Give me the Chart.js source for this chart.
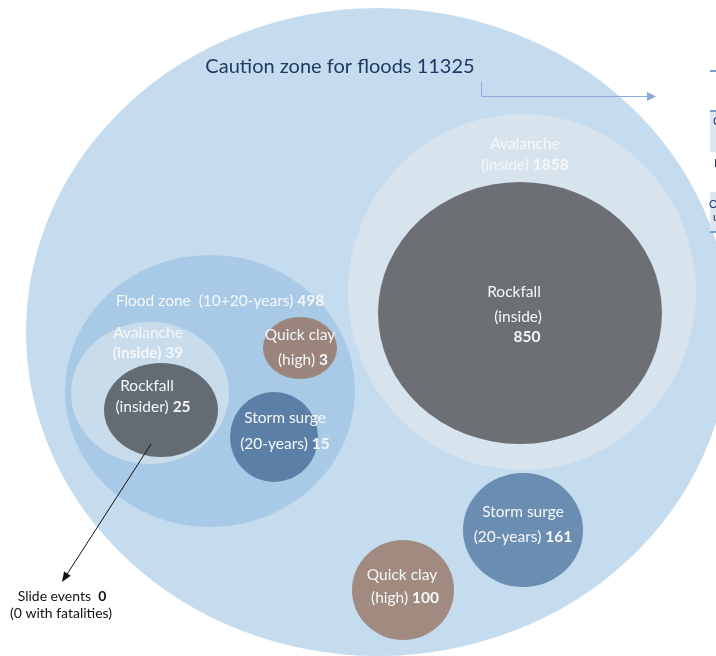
<!DOCTYPE html>
<html>
<head>
<meta charset="utf-8">
<script src="https://cdn.jsdelivr.net/npm/chart.js@4.4.1/dist/chart.umd.min.js"></script>
<style>
  body { margin: 0; background: #ffffff; }
  #wrap { width: 716px; height: 656px; }
</style>
</head>
<body>
<div id="wrap"><canvas id="chart" width="716" height="656"></canvas></div>
<script>
// zones and their counts
const zoneNames = ['Caution zone for floods', 'Avalanche (inside)', 'Rockfall (inside)', 'Flood zone (10+20-years)',
  'Avalanche (inside)', 'Rockfall (insider)', 'Quick clay (high)', 'Storm surge (20-years)',
  'Storm surge (20-years)', 'Quick clay (high)'];
const zoneCounts = [11325, 1858, 850, 498, 39, 25, 3, 15, 161, 100];
// label text per zone, "**" starts the bold part, {n} is the count
const zoneLines = [
  ['Caution zone for floods {n}'],
  ['Avalanche', '(inside) **{n}'],
  ['Rockfall', '(inside)', '**{n}'],
  ['Flood zone  (10+20-years) **{n}'],
  ['Avalanche', '**(inside) {n}'],
  ['Rockfall', '(insider) **{n}'],
  ['Quick clay', '(high) **{n}'],
  ['Storm surge', '(20-years) **{n}'],
  ['Storm surge', '(20-years) **{n}'],
  ['Quick clay', '(high) **{n}']
];
const slideEvents = 0;
const slideFatalities = 0;

// layout (in axis units, 1 unit = 1 px)
const zoneCenters = [[378, 332], [522, 292], [520, 313], [210, 391], [150, 393], [161, 410], [300, 348], [274, 437], [523, 530], [403, 590]];
const zoneRadii = [[352, 324], [174, 178], [142, 131], [145, 136], [79, 71], [57, 47], [37, 31], [44, 45], [60, 57], [51, 50]];
const zoneColors = ['#c5dcef', '#d7e4ee', '#6c7075', '#a8cae6', '#c8dcec', '#636c73', '#9a847c', '#5b7fa6', '#6a8db1', '#a18a80'];
const labelPos = [
  [[340, 67]],
  [[525, 144], [525, 165]],
  [[514, 292], [518, 317], [527, 337]],
  [[220, 301]],
  [[148, 333], [148, 353]],
  [[147, 386], [153, 407]],
  [[300, 335], [303, 360]],
  [[285, 418], [285, 444]],
  [[523, 512], [523, 537]],
  [[402, 575], [405, 598]]
];

const FONT = 'Lato, "Open Sans", sans-serif';

const ellipsePlugin = {
  id: 'ellipses',
  beforeDatasetsDraw(chart) {
    const ctx = chart.ctx;
    const xs = chart.scales.x, ys = chart.scales.y;
    const meta = chart.getDatasetMeta(0);
    meta.data.forEach((pt, i) => {
      const d = chart.data.datasets[0].data[i];
      const rx = Math.abs(xs.getPixelForValue(d.x + d.rx) - pt.x);
      const ry = Math.abs(ys.getPixelForValue(d.y + d.ry) - pt.y);
      ctx.save();
      ctx.fillStyle = zoneColors[i];
      ctx.beginPath();
      ctx.ellipse(pt.x, pt.y, rx, ry, 0, 0, Math.PI * 2);
      ctx.fill();
      ctx.restore();
    });
  },
  afterDatasetsDraw(chart) {
    const ctx = chart.ctx;
    const xs = chart.scales.x, ys = chart.scales.y;
    const px = v => xs.getPixelForValue(v), py = v => ys.getPixelForValue(v);

    // zone labels
    zoneLines.forEach((lines, i) => {
      const big = i === 0;
      const size = big ? 20 : 15.5;
      ctx.save();
      ctx.textBaseline = 'middle';
      ctx.fillStyle = big ? '#1f3864' : '#f5f7f9';
      lines.forEach((line, j) => {
        const txt = line.replace('{n}', zoneCounts[i]);
        const parts = txt.split('**');
        const normal = parts[0], bold = parts[1] || '';
        ctx.font = size + 'px ' + FONT;
        const w1 = ctx.measureText(normal).width;
        ctx.font = 'bold ' + size + 'px ' + FONT;
        const w2 = ctx.measureText(bold).width;
        let x = px(labelPos[i][j][0]) - (w1 + w2) / 2;
        const y = py(labelPos[i][j][1]);
        ctx.textAlign = 'left';
        ctx.font = size + 'px ' + FONT;
        ctx.fillText(normal, x, y);
        ctx.font = 'bold ' + size + 'px ' + FONT;
        ctx.fillText(bold, x + w1, y);
      });
      ctx.restore();
    });

    // blue connector arrow toward the (cropped) table
    ctx.save();
    ctx.strokeStyle = '#8eaadb';
    ctx.fillStyle = '#8eaadb';
    ctx.lineWidth = 1;
    ctx.beginPath();
    ctx.moveTo(px(481) + 0.5, py(82));
    ctx.lineTo(px(481) + 0.5, py(96) + 0.5);
    ctx.lineTo(px(648), py(96) + 0.5);
    ctx.stroke();
    ctx.beginPath();
    ctx.moveTo(px(656), py(96) + 0.5);
    ctx.lineTo(px(647), py(92));
    ctx.lineTo(px(647), py(101));
    ctx.closePath();
    ctx.fill();

    // cropped table fragments at the right edge
    ctx.fillStyle = '#6f9fd8';
    ctx.fillRect(px(710), py(70), 6, 2);
    ctx.fillStyle = '#dce6f2';
    ctx.fillRect(px(710), py(111), 6, 41);
    ctx.fillRect(px(710), py(192), 6, 40);
    ctx.fillStyle = '#6f9fd8';
    ctx.fillRect(px(710), py(110), 6, 2);
    ctx.fillRect(px(710), py(231), 6, 2);
    ctx.fillStyle = '#1f3864';
    ctx.font = '11px ' + FONT;
    ctx.textBaseline = 'middle';
    ctx.fillText('C', px(713), py(121));
    ctx.fillText('F', px(714), py(163));
    ctx.fillText('O', px(709), py(204));
    ctx.fillText('u', px(713), py(217));
    ctx.restore();

    // black pointer to slide events
    const x0 = px(151), y0 = py(444), x1 = px(62), y1 = py(582);
    const ang = Math.atan2(y1 - y0, x1 - x0);
    ctx.save();
    ctx.strokeStyle = '#111';
    ctx.fillStyle = '#111';
    ctx.lineWidth = 1;
    ctx.beginPath();
    ctx.moveTo(x0, y0);
    ctx.lineTo(x1 - 8 * Math.cos(ang), y1 - 8 * Math.sin(ang));
    ctx.stroke();
    ctx.beginPath();
    ctx.moveTo(x1, y1);
    ctx.lineTo(x1 - 10 * Math.cos(ang) + 4 * Math.sin(ang), y1 - 10 * Math.sin(ang) - 4 * Math.cos(ang));
    ctx.lineTo(x1 - 10 * Math.cos(ang) - 4 * Math.sin(ang), y1 - 10 * Math.sin(ang) + 4 * Math.cos(ang));
    ctx.closePath();
    ctx.fill();

    ctx.textBaseline = 'middle';
    ctx.font = '14px ' + FONT;
    const a = 'Slide events  ';
    const b = String(slideEvents);
    const wa = ctx.measureText(a).width;
    ctx.font = 'bold 14px ' + FONT;
    const wb = ctx.measureText(b).width;
    let sx = px(62) - (wa + wb) / 2;
    ctx.font = '14px ' + FONT;
    ctx.textAlign = 'left';
    ctx.fillText(a, sx, py(596));
    ctx.font = 'bold 14px ' + FONT;
    ctx.fillText(b, sx + wa, py(596));
    ctx.font = '14px ' + FONT;
    ctx.textAlign = 'center';
    ctx.fillText('(' + slideFatalities + ' with fatalities)', px(61), py(613));
    ctx.restore();
  }
};

new Chart(document.getElementById('chart'), {
  type: 'scatter',
  data: {
    datasets: [{
      label: 'Zones',
      data: zoneNames.map((name, i) => ({
        x: zoneCenters[i][0], y: zoneCenters[i][1],
        rx: zoneRadii[i][0], ry: zoneRadii[i][1], name: name
      })),
      pointRadius: 0,
      pointHoverRadius: 0
    }]
  },
  options: {
    responsive: false,
    animation: false,
    layout: { padding: 0 },
    plugins: { legend: { display: false }, tooltip: { enabled: false } },
    scales: {
      x: { type: 'linear', min: 0, max: 716, display: false },
      y: { type: 'linear', min: 0, max: 656, reverse: true, display: false }
    }
  },
  plugins: [ellipsePlugin]
});
</script>
</body>
</html>
